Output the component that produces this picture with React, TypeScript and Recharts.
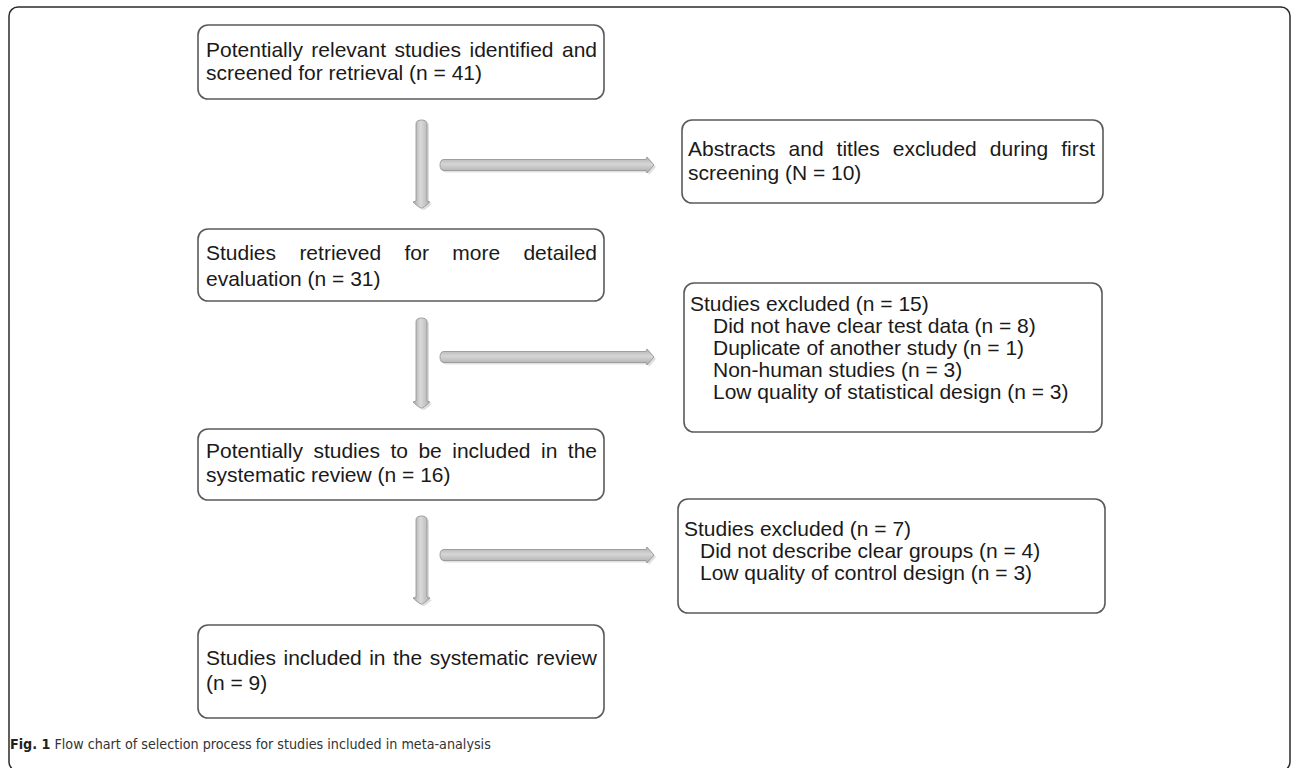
import React from "react";
import { ComposedChart, XAxis, YAxis, ReferenceArea } from "recharts";

const W = 1292;
const H = 768;

// main path of the flow, top to bottom
const mainSteps = [
  ["Potentially relevant studies identified and", "screened for retrieval (n = 41)"],
  ["Studies retrieved for more detailed", "evaluation (n = 31)"],
  ["Potentially studies to be included in the", "systematic review (n = 16)"],
  ["Studies included in the systematic review", "(n = 9)"],
];

// exclusion boxes on the right
const exclusionHeads = [
  "Abstracts and titles excluded during first",
  "Studies excluded (n = 15)",
  "Studies excluded (n = 7)",
];
const exclusionItems = [
  ["screening (N = 10)"],
  [
    "Did not have clear test data (n = 8)",
    "Duplicate of another study (n = 1)",
    "Non-human studies (n = 3)",
    "Low quality of statistical design (n = 3)",
  ],
  ["Did not describe clear groups (n = 4)", "Low quality of control design (n = 3)"],
];

const captionLabel = "Fig. 1";
const captionText = "Flow chart of selection process for studies included in meta-analysis";

// layout (chart units == pixels)
const mainBoxes = [
  { x1: 198, x2: 604, y1: 25, y2: 99, base: [57, 80] },
  { x1: 198, x2: 604, y1: 229, y2: 301, base: [260, 286] },
  { x1: 198, x2: 604, y1: 429, y2: 500, base: [458, 482] },
  { x1: 198, x2: 604, y1: 625, y2: 718, base: [665, 690] },
];
const sideBoxes = [
  { x1: 682, x2: 1103, y1: 120, y2: 203, base: [156, 180], indent: 0 },
  { x1: 684, x2: 1102, y1: 283, y2: 432, base: [311, 333, 355, 377, 399], indent: 23 },
  { x1: 678, x2: 1105, y1: 499, y2: 613, base: [536, 558, 580], indent: 16 },
];
const downArrows = [
  [120, 208],
  [318, 408],
  [516, 604],
];
const sideArrowY = [165, 357, 555];

const FONT = "'Liberation Sans', Arial, sans-serif";
const FS = 21;

let ctx: CanvasRenderingContext2D | null = null;
function textWidth(text: string, font: string) {
  if (!ctx) ctx = document.createElement("canvas").getContext("2d");
  if (!ctx) return text.length * 10;
  ctx.font = font;
  return ctx.measureText(text).width;
}

const boxShape = (p: any) => (
  <rect x={p.x} y={p.y} width={p.width} height={p.height} rx={10} ry={10}
    fill="#fff" stroke="#5a5a5a" strokeWidth={1.6} />
);

const lineShape = (text: string, justify: boolean) => (p: any) => {
  let ws = 0;
  if (justify) {
    const spaces = text.split(" ").length - 1;
    const w = textWidth(text, `${FS}px 'Liberation Sans'`);
    if (spaces > 0) ws = (p.width - w) / spaces;
  }
  return (
    <text x={p.x} y={p.y + p.height} fontFamily={FONT} fontSize={FS} fill="#1a1a1a"
      style={{ wordSpacing: `${ws}px` }}>
      {text}
    </text>
  );
};

const frameShape = (p: any) => (
  <g>
    <defs>
      <linearGradient id="arrV" x1="0" y1="0" x2="1" y2="0">
        <stop offset="0%" stopColor="#a9a9a9" />
        <stop offset="45%" stopColor="#dadada" />
        <stop offset="100%" stopColor="#aeaeae" />
      </linearGradient>
      <linearGradient id="arrH" x1="0" y1="0" x2="0" y2="1">
        <stop offset="0%" stopColor="#b0b0b0" />
        <stop offset="45%" stopColor="#d6d6d6" />
        <stop offset="100%" stopColor="#ababab" />
      </linearGradient>
    </defs>
    <rect x={p.x} y={p.y} width={p.width} height={p.height} rx={9} ry={9}
      fill="#fff" stroke="#2b2b2b" strokeWidth={1.5} />
  </g>
);

const downShape = (p: any) => {
  const cx = p.x + p.width / 2;
  const s = 5.5, hw = 8.5, hl = 7;
  const top = p.y, bot = p.y + p.height;
  const d = `M${cx - s},${top + 4} Q${cx - s},${top} ${cx},${top} Q${cx + s},${top} ${cx + s},${top + 4}
    L${cx + s},${bot - hl} L${cx + hw},${bot - hl + 1} Q${cx + 2},${bot} ${cx},${bot} Q${cx - 2},${bot} ${cx - hw},${bot - hl + 1}
    L${cx - s},${bot - hl} Z`;
  return (
    <g>
      <path d={d} transform="translate(2,2)" fill="#000" fillOpacity={0.12} />
      <path d={d} fill="url(#arrV)" stroke="#8f8f8f" strokeWidth={0.8} />
    </g>
  );
};

const sideShape = (p: any) => {
  const cy = p.y + p.height / 2;
  const s = 5.5, hw = 8, hl = 8;
  const l = p.x, r = p.x + p.width;
  const d = `M${l + 4},${cy - s} L${r - hl},${cy - s} L${r - hl + 1},${cy - hw} L${r},${cy}
    L${r - hl + 1},${cy + hw} L${r - hl},${cy + s} L${l + 4},${cy + s} Q${l},${cy + s} ${l},${cy} Q${l},${cy - s} ${l + 4},${cy - s} Z`;
  return (
    <g>
      <path d={d} transform="translate(2,2)" fill="#000" fillOpacity={0.12} />
      <path d={d} fill="url(#arrH)" stroke="#8f8f8f" strokeWidth={0.8} />
    </g>
  );
};

const captionShape = (p: any) => (
  <text x={p.x} y={p.y + p.height} fontFamily="'Liberation Sans Narrow', 'DejaVu Sans Condensed', sans-serif"
    fontSize={14.2} fill="#333">
    <tspan fontWeight="bold" fill="#222">{captionLabel}</tspan>
    <tspan> {captionText}</tspan>
  </text>
);

export default function App() {
  return (
    <div style={{ position: "absolute", left: 0, top: 0, width: W, height: H, background: "#fff" }}>
      <ComposedChart width={W} height={H} margin={{ top: 0, right: 0, bottom: 0, left: 0 }}>
        <XAxis type="number" dataKey="x" domain={[0, W]} hide allowDataOverflow />
        <YAxis type="number" dataKey="y" domain={[0, H]} reversed hide allowDataOverflow />

        <ReferenceArea x1={9} x2={1290} y1={7} y2={771} ifOverflow="visible" shape={frameShape} />

        {mainBoxes.map((b, i) => (
          <ReferenceArea key={`mb${i}`} x1={b.x1} x2={b.x2} y1={b.y1} y2={b.y2} shape={boxShape} />
        ))}
        {sideBoxes.map((b, i) => (
          <ReferenceArea key={`sb${i}`} x1={b.x1} x2={b.x2} y1={b.y1} y2={b.y2} shape={boxShape} />
        ))}

        {mainSteps.map((lines, i) =>
          lines.map((t, j) => (
            <ReferenceArea key={`mt${i}-${j}`} x1={mainBoxes[i].x1 + 8} x2={mainBoxes[i].x2 - 7}
              y1={mainBoxes[i].base[j] - 15} y2={mainBoxes[i].base[j]}
              shape={lineShape(t, j < lines.length - 1)} />
          ))
        )}
        {exclusionHeads.map((h, i) => {
          const b = sideBoxes[i];
          const rows = [h, ...exclusionItems[i]];
          return rows.map((t, j) => (
            <ReferenceArea key={`st${i}-${j}`}
              x1={b.x1 + 6 + (j > 0 ? b.indent : 0)} x2={b.x2 - 8}
              y1={b.base[j] - 15} y2={b.base[j]}
              shape={lineShape(t, i === 0 && j === 0)} />
          ));
        })}

        {downArrows.map(([a, z], i) => (
          <ReferenceArea key={`da${i}`} x1={413} x2={430} y1={a} y2={z} shape={downShape} />
        ))}
        {sideArrowY.map((y, i) => (
          <ReferenceArea key={`ha${i}`} x1={440} x2={654} y1={y - 8} y2={y + 8} shape={sideShape} />
        ))}

        <ReferenceArea x1={10} x2={490} y1={735} y2={749} shape={captionShape} />
      </ComposedChart>
    </div>
  );
}
